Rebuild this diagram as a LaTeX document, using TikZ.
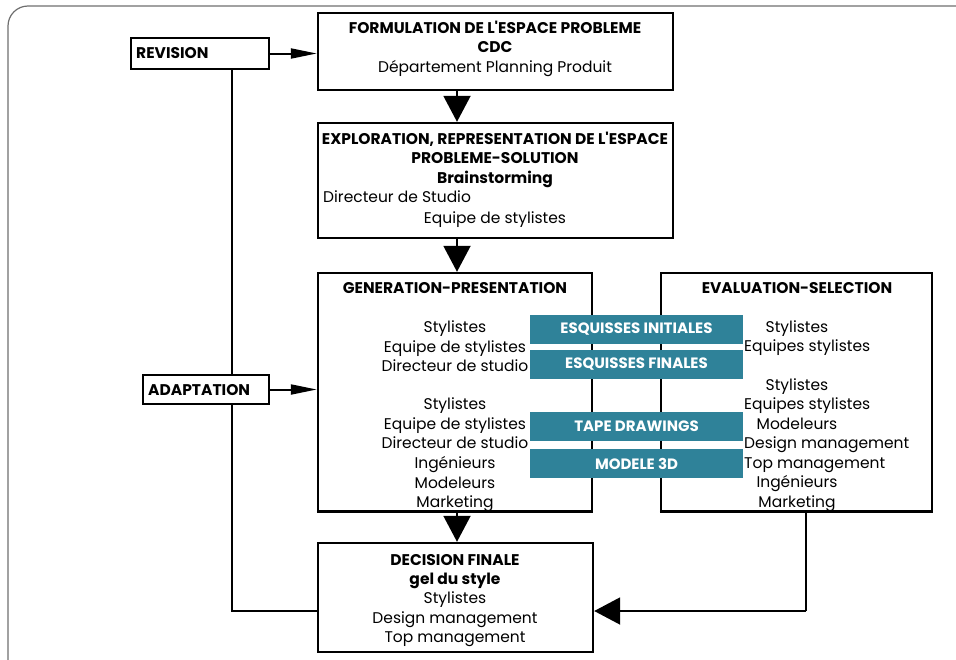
\documentclass[tikz,border=0pt]{standalone}
\usepackage{fontspec}
\setmainfont{Poppins}[Ligatures=TeXOff]
\usetikzlibrary{arrows.meta}
\definecolor{tealc}{RGB}{47,130,153}
\definecolor{framec}{RGB}{110,110,110}
\tikzset{
  box/.style={draw, line width=2.4pt, fill=white, inner sep=0pt},
  tealbox/.style={fill=tealc, draw=none, inner sep=0pt, minimum width=213pt, minimum height=29pt, text=white, font=\fontsize{15}{17}\selectfont\bfseries},
  txt/.style={inner sep=0pt, text height=11pt, text depth=4pt, yshift=-2pt, font=\fontsize{15.5}{18}\selectfont},
  btxt/.style={txt, font=\fontsize{15.5}{18}\selectfont\bfseries},
  conn/.style={line width=2pt},
  smallarr/.style={conn, -{Triangle[length=26pt, width=10pt]}},
  bigarr/.style={conn, -{Triangle[length=26pt, width=27pt]}},
}
\begin{document}
\begin{tikzpicture}[x=1pt, y=-1pt]
\useasboundingbox (0,0) rectangle (956,659);
\begin{scope}
\clip (0,0) rectangle (956,659);
\draw[framec, line width=1.2pt, rounded corners=20pt] (8,6) rectangle (975,685);
\end{scope}
% connector coordinates
\coordinate (revb) at (232,69);
\coordinate (lj) at (232,611);
\coordinate (evb) at (806,511);
\coordinate (rj) at (806,611);
% left feedback line (under boxes)
\draw[conn] (revb) -- (lj) -- (lj -| 318,0);
% boxes
\node[box, minimum width=138pt, minimum height=31pt] (rev) at (200,53.5) {};
\node[box, minimum width=126pt, minimum height=29pt] (adp) at (206,389.5) {};
\node[box, minimum width=355pt, minimum height=77pt] (b1) at (495.5,51.5) {};
\node[box, minimum width=355pt, minimum height=115pt] (b2) at (495.5,180.5) {};
\node[box, minimum width=274pt, minimum height=238pt] (gen) at (455,392) {};
\node[box, minimum width=271pt, minimum height=238pt] (eva) at (796.5,392) {};
\node[box, minimum width=275pt, minimum height=109pt] (dec) at (455.5,597.5) {};
% labels of side boxes
\node[btxt, anchor=west] (revt) at (136,53) {REVISION};
\node[btxt, anchor=west] (adpt) at (148,390) {ADAPTATION};
% box 1
\node[btxt] (t11) at (495,28) {FORMULATION DE L'ESPACE PROBLEME};
\node[btxt] (t12) at (495,47) {CDC};
\node[txt] (t13) at (495,67) {Département Planning Produit};
% box 2
\node[btxt] (t21) at (495,139) {EXPLORATION, REPRESENTATION DE L'ESPACE};
\node[btxt] (t22) at (495,158) {PROBLEME-SOLUTION};
\node[btxt] (t23) at (495,178) {Brainstorming};
\node[txt, anchor=west] (t24) at (323,197) {Directeur de Studio};
\node[txt] (t25) at (495,218) {Equipe de stylistes};
% generation
\node[btxt] (g0) at (455,288) {GENERATION-PRESENTATION};
\node[txt] (g1) at (455,327) {Stylistes};
\node[txt] (g2) at (455,347) {Equipe de stylistes};
\node[txt] (g3) at (455,366) {Directeur de studio};
\node[txt] (g4) at (455,404) {Stylistes};
\node[txt] (g5) at (455,424) {Equipe de stylistes};
\node[txt] (g6) at (455,443) {Directeur de studio};
\node[txt] (g7) at (455,463) {Ingénieurs};
\node[txt] (g8) at (455,483) {Modeleurs};
\node[txt] (g9) at (455,502) {Marketing};
% evaluation
\node[btxt] (e0) at (797,288) {EVALUATION-SELECTION};
\node[txt] (e1) at (797,327) {Stylistes};
\node[txt, anchor=west] (e2) at (744,346) {Equipes stylistes};
\node[txt] (e3) at (797,385) {Stylistes};
\node[txt, anchor=west] (e4) at (744,404) {Equipes stylistes};
\node[txt] (e5) at (797,424) {Modeleurs};
\node[txt, anchor=west] (e6) at (744,443) {Design management};
\node[txt, anchor=west] (e7) at (744,463) {Top management};
\node[txt] (e8) at (797,482) {Ingénieurs};
\node[txt] (e9) at (797,502) {Marketing};
% cut descenders at the bottom borders
\fill[white] (gen.south west) rectangle ([yshift=-8pt]gen.south east);
\fill[white] (eva.south west) rectangle ([yshift=-8pt]eva.south east);
\draw[line width=2.4pt] (gen.south west) -- (gen.south east);
\draw[line width=2.4pt] (eva.south west) -- (eva.south east);
% teal boxes
\node[tealbox] (k1) at (636.5,329.5) {ESQUISSES INITIALES};
\node[tealbox] (k2) at (636.5,364.5) {ESQUISSES FINALES};
\node[tealbox] (k3) at (636.5,426.5) {TAPE DRAWINGS};
\node[tealbox] (k4) at (636.5,463.5) {MODELE 3D};
% decision
\node[btxt] (d1) at (455,560) {DECISION FINALE};
\node[btxt] (d2) at (455,579) {gel du style};
\node[txt] (d3) at (455,598) {Stylistes};
\node[txt] (d4) at (455,618) {Design management};
\node[txt] (d5) at (455,637) {Top management};
% arrows
\draw[smallarr] (rev.east) -- (rev.east -| b1.west);
\draw[smallarr] (adp.east) -- (adp.east -| gen.west);
\draw[bigarr] (b1.south -| 457,0) -- (b2.north -| 457,0);
\draw[bigarr] (b2.south -| 457,0) -- (gen.north -| 457,0);
\draw[bigarr] (gen.south -| 457,0) -- (dec.north -| 457,0);
\draw[conn] (evb) -- (rj);
\draw[bigarr] (rj) -- (rj -| dec.east);
\end{tikzpicture}
\end{document}
